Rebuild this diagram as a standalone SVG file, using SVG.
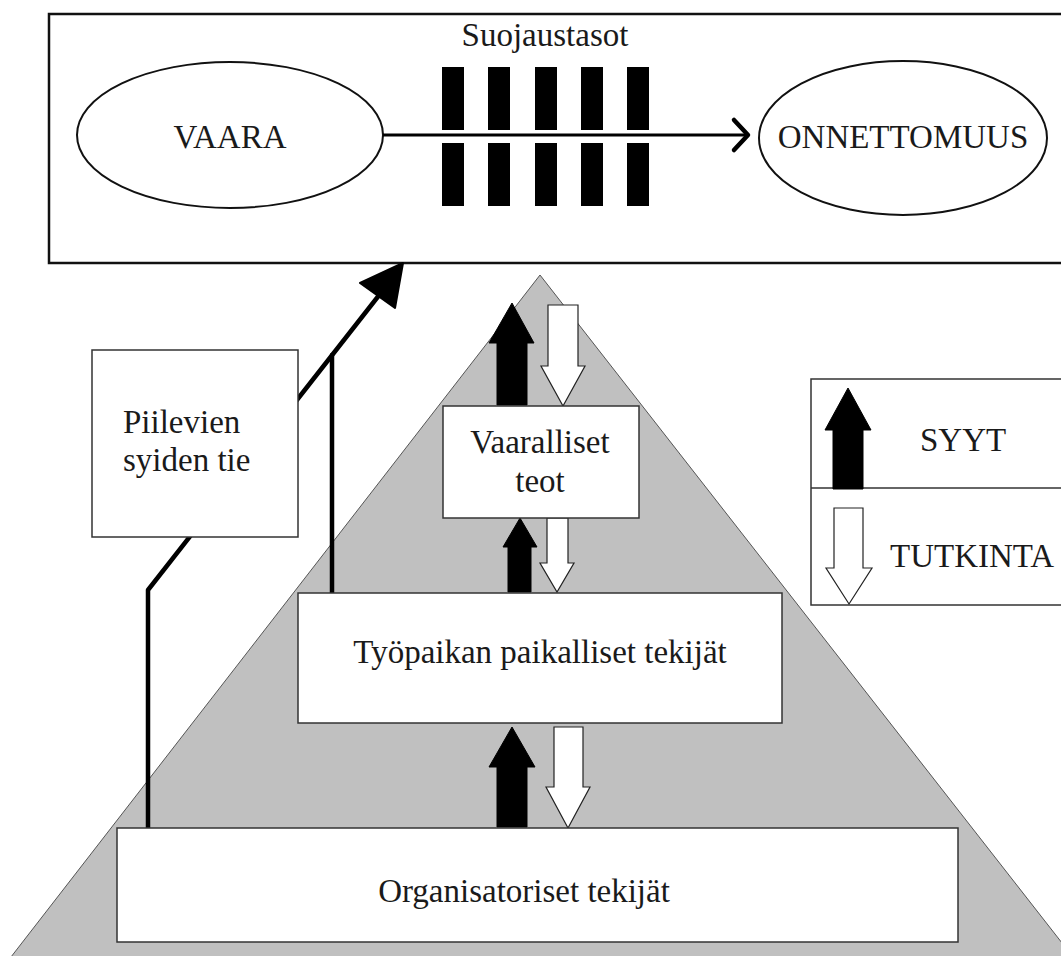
<svg xmlns="http://www.w3.org/2000/svg" width="1061" height="956" viewBox="0 0 1061 956">
  <style>
    .lbl { font-family: "Liberation Serif", "Times New Roman", serif; font-size: 33px; fill: #1a1a1a; }
    .box { fill: #ffffff; stroke: #333333; stroke-width: 1.5; }
    .oval { fill: #ffffff; stroke: #111111; stroke-width: 2; }
    .bar { fill: #000000; }
    .cause { fill: #000000; stroke: #000000; stroke-width: 1; }
    .probe { fill: #ffffff; stroke: #222222; stroke-width: 1.2; }
    .path { fill: none; stroke: #000000; stroke-width: 4.5; stroke-linejoin: round; stroke-linecap: round; }
  </style>

  <rect width="1061" height="956" fill="#ffffff"/>

  <!-- organisational pyramid background -->
  <polygon id="pyramid" points="540,275 4,966 1080,966" fill="#c0c0c0" stroke="#555555" stroke-width="1"/>

  <!-- top panel: hazard, defence layers, accident -->
  <g id="defences-panel">
    <rect x="49" y="14" width="1020" height="249" fill="#ffffff" stroke="#111111" stroke-width="2.5"/>
    <text class="lbl" x="545" y="46" text-anchor="middle">Suojaustasot</text>
    <g id="layers">
      <rect class="bar" x="442" y="67" width="22" height="63"/>
      <rect class="bar" x="442" y="143" width="22" height="63"/>
      <rect class="bar" x="488" y="67" width="22" height="63"/>
      <rect class="bar" x="488" y="143" width="22" height="63"/>
      <rect class="bar" x="535" y="67" width="22" height="63"/>
      <rect class="bar" x="535" y="143" width="22" height="63"/>
      <rect class="bar" x="581" y="67" width="22" height="63"/>
      <rect class="bar" x="581" y="143" width="22" height="63"/>
      <rect class="bar" x="627" y="67" width="22" height="63"/>
      <rect class="bar" x="627" y="143" width="22" height="63"/>
    </g>
  </g>

  <g id="vaara">
    <ellipse class="oval" cx="230" cy="135" rx="153" ry="73"/>
    <text class="lbl" x="230" y="148" text-anchor="middle" font-size="34">VAARA</text>
  </g>

  <g id="onnettomuus">
    <ellipse class="oval" cx="903" cy="138" rx="144" ry="77"/>
    <text class="lbl" x="903" y="148" text-anchor="middle" font-size="34">ONNETTOMUUS</text>
  </g>

  <!-- connectors -->
  <g id="connectors">
    <!-- hazard trajectory through the defences -->
    <line x1="383" y1="135" x2="746" y2="135" stroke="#000000" stroke-width="3"/>
    <polyline points="734,120 748,135 734,150" fill="none" stroke="#000000" stroke-width="4.5" stroke-linecap="round" stroke-linejoin="round"/>

    <!-- latent condition pathway -->
    <path class="path" d="M148,829 V590 L380,294"/>
    <path class="path" d="M332,594 V355"/>
    <polygon points="403,263 360,283 395,308" fill="#000000" stroke="#000000" stroke-width="2" stroke-linejoin="round"/>

    <!-- causes (up) and investigation (down) between levels -->
    <polygon class="cause" points="512,303 534,343 527,343 527,405 497,405 497,343 489,343"/>
    <polygon class="probe" points="548,305 578,305 578,366 585,366 563,406 541,366 548,366"/>

    <polygon class="cause" points="520,518 537,547 531,547 531,592 508,592 508,547 503,547"/>
    <polygon class="probe" points="547,518 568,518 568,563 574,563 557,592 540,563 547,563"/>

    <polygon class="cause" points="512,727 535,767 527,767 527,827 497,827 497,767 489,767"/>
    <polygon class="probe" points="554,727 583,727 583,787 590,787 568,828 546,787 554,787"/>
  </g>

  <g id="piilevien">
    <rect class="box" x="92" y="350" width="206" height="187"/>
    <text class="lbl" x="123" y="433">Piilevien</text>
    <text class="lbl" x="123" y="471">syiden tie</text>
  </g>

  <g id="vaaralliset">
    <rect class="box" x="443" y="406" width="196" height="112"/>
    <text class="lbl" x="540" y="453" text-anchor="middle">Vaaralliset</text>
    <text class="lbl" x="540" y="492" text-anchor="middle">teot</text>
  </g>

  <g id="tyopaikka">
    <rect class="box" x="298" y="593" width="484" height="130"/>
    <text class="lbl" x="540" y="663" text-anchor="middle">Työpaikan paikalliset tekijät</text>
  </g>

  <g id="organisaatio">
    <rect class="box" x="117" y="828" width="841" height="114"/>
    <text class="lbl" x="524" y="902" text-anchor="middle">Organisatoriset tekijät</text>
  </g>

  <!-- legend -->
  <g id="legend">
    <rect class="box" x="811" y="379" width="270" height="226"/>
    <line x1="811" y1="488" x2="1081" y2="488" stroke="#333333" stroke-width="1.5"/>
    <polygon class="cause" points="848,388 871,430 863,430 863,489 833,489 833,430 825,430"/>
    <text class="lbl" x="920" y="451">SYYT</text>
    <polygon class="probe" points="834,508 863,508 863,568 872,568 849,604 826,568 834,568"/>
    <text class="lbl" x="890" y="567">TUTKINTA</text>
  </g>
</svg>
